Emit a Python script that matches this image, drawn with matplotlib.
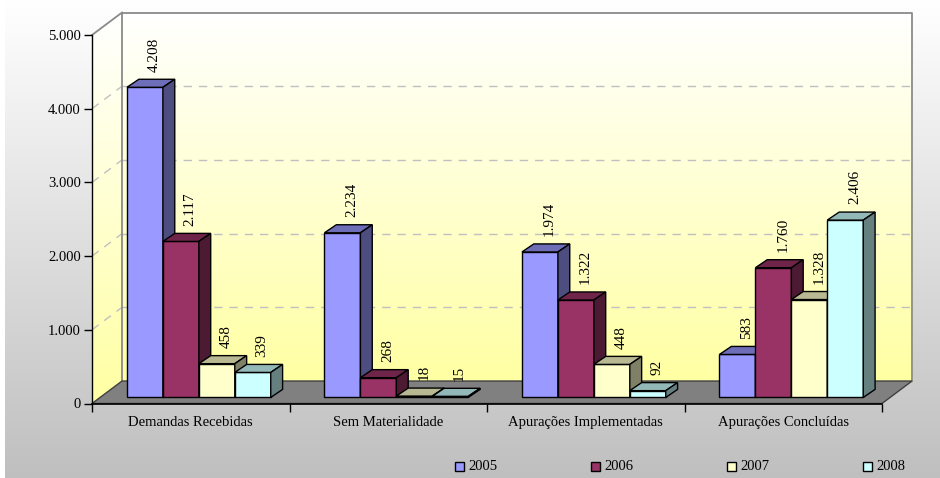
import numpy as np
import matplotlib.pyplot as plt
from matplotlib.patches import Polygon, Rectangle
from matplotlib.colors import to_rgb

plt.rcParams["font.family"] = ["Liberation Serif", "DejaVu Serif"]

categories = ["Demandas Recebidas", "Sem Materialidade",
              "Apurações Implementadas", "Apurações Concluídas"]
years = ["2005", "2006", "2007", "2008"]
values_2005 = [4208, 2234, 1974, 583]
values_2006 = [2117, 268, 1322, 1760]
values_2007 = [458, 18, 448, 1328]
values_2008 = [339, 15, 92, 2406]
series = [values_2005, values_2006, values_2007, values_2008]
colors = ["#9999ff", "#993366", "#ffffcc", "#ccffff"]
yticks = [0, 1000, 2000, 3000, 4000, 5000]
ytick_labels = ["0", "1.000", "2.000", "3.000", "4.000", "5.000"]


def fmt(v):
    return f"{v:,}".replace(",", ".")


def shade(c, k):
    return tuple(np.array(to_rgb(c)) * k)


W, H = 940, 478
fig = plt.figure(figsize=(W / 100, H / 100), dpi=100)

# chart area background (pixel coordinates)
bg = fig.add_axes([0, 0, 1, 1])
bg.set_xlim(0, W)
bg.set_ylim(H, 0)
bg.axis("off")
g = np.linspace(1.0, 0.75, 256)[:, None]
bg.imshow(np.dstack([g, g, g]), extent=[5, W, H, 0], aspect="auto", origin="upper", zorder=0)

# plot axes: front plane, x in categories, y in values
ax = fig.add_axes([92 / W, (H - 403.5) / H, 790 / W, 368.5 / H])
ax.patch.set_alpha(0)
n = len(categories)
ymax = yticks[-1]
DX, DY = 0.152, 305        # full depth of the floor
BDX, BDY = 0.06, 109       # depth of the bars
f0 = 0.27                  # bars' front face position in depth
bw = 0.182

# back wall gradient
wg = np.linspace(1.0, 0.0, 256)[:, None]
wall = np.dstack([np.ones_like(wg), np.ones_like(wg), 1 - 0.36 * (1 - wg)])
ax.imshow(wall, extent=[DX, n + DX, DY, ymax + DY], aspect="auto",
          origin="upper", zorder=0, clip_on=False)
side_poly = Polygon([(0, 0), (DX, DY), (DX, ymax + DY), (0, ymax)], closed=True,
                    transform=ax.transData, fc="none", ec="none")
im = ax.imshow(wall, extent=[0, DX, 0, ymax + DY], aspect="auto",
               origin="upper", zorder=0)
im.set_clip_box(fig.bbox)
im.set_clip_path(side_poly)

# floor
ax.add_patch(Polygon([(0, 0), (n, 0), (n + DX, DY), (DX, DY)], closed=True,
                     fc="#808080", ec="#404040", lw=1, zorder=1, clip_on=False))

# gridlines on walls
for v in yticks[1:-1]:
    ax.plot([DX, n + DX], [v + DY, v + DY], color="#c0c0c0", lw=1,
            ls=(0, (6, 5)), zorder=0.5, clip_on=False)
    ax.plot([0, DX], [v, v + DY], color="#c0c0c0", lw=1,
            ls=(0, (6, 5)), zorder=0.5, clip_on=False)

# wall borders
ax.plot([DX, DX, n + DX, n + DX], [DY, ymax + DY, ymax + DY, DY],
        color="#8a8a8a", lw=1.3, zorder=0.6, clip_on=False)
ax.plot([0, DX], [ymax, ymax + DY], color="#8a8a8a", lw=1.3, zorder=0.6, clip_on=False)

# bars
base = f0 * DY
xs0 = np.arange(n) + 0.5 - 2 * bw + f0 * DX
for j, (vals, c) in enumerate(zip(series, colors)):
    x = xs0 + j * bw
    z = 3 + 3 * j
    ax.bar(x, vals, width=bw, bottom=base, align="edge", color=c,
           edgecolor="black", linewidth=1, zorder=z, clip_on=False)
    for xi, v in zip(x, vals):
        top = base + v
        ax.add_patch(Polygon([(xi, top), (xi + bw, top), (xi + bw + BDX, top + BDY),
                              (xi + BDX, top + BDY)], closed=True, fc=shade(c, 0.72),
                             ec="black", lw=1, zorder=z + 1, clip_on=False))
        ax.add_patch(Polygon([(xi + bw, base), (xi + bw, top), (xi + bw + BDX, top + BDY),
                              (xi + bw + BDX, base + BDY)], closed=True, fc=shade(c, 0.5),
                             ec="black", lw=1, zorder=z + 1, clip_on=False))
        ax.annotate(fmt(v), xy=(xi + bw / 2 + BDX / 2, top + BDY), xytext=(2.5, 5.5),
                    textcoords="offset points", rotation=90, ha="center", va="bottom",
                    fontsize=11, zorder=20, annotation_clip=False)

ax.set_xlim(0, n)
ax.set_ylim(0, ymax)
for s in ["top", "right"]:
    ax.spines[s].set_visible(False)
ax.spines["left"].set_linewidth(1)
ax.spines["bottom"].set_linewidth(1.2)
ax.set_yticks(yticks)
ax.set_yticklabels(ytick_labels, fontsize=10.5)
ax.tick_params(axis="y", direction="out", length=6, width=1, pad=2)
ax.set_xticks(np.arange(n + 1))
ax.set_xticklabels([])
ax.tick_params(axis="x", which="major", direction="out", length=6, width=1)
ax.set_xticks(np.arange(n) + 0.5, minor=True)
ax.set_xticklabels(categories, minor=True, fontsize=10.5)
ax.tick_params(axis="x", which="minor", length=0, pad=9)

# legend
for j, (yr, c) in enumerate(zip(years, colors)):
    x0 = 455 + 136 * j
    bg.add_patch(Rectangle((x0, 462), 9, 9, fc=c, ec="black", lw=1, zorder=2))
    bg.text(x0 + 13, 467, yr, va="center", ha="left", fontsize=10.5, zorder=2)

fig.savefig("out.png", dpi=100)
